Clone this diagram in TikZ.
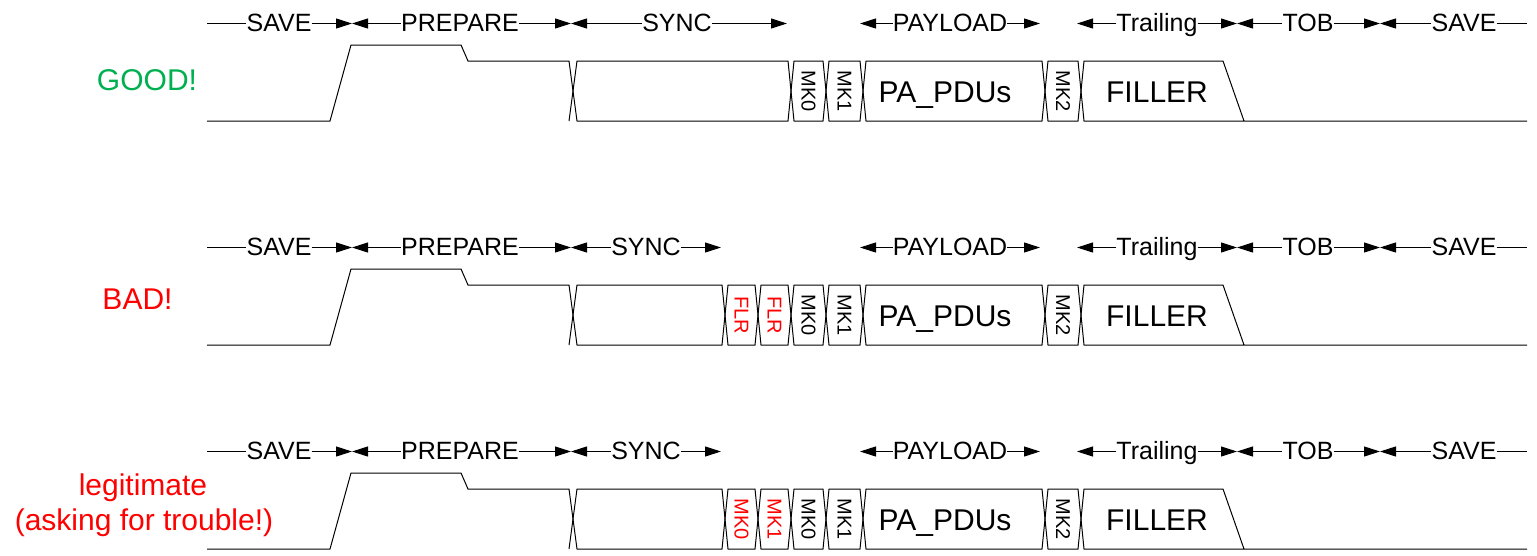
\documentclass[tikz,border=0pt]{standalone}
\usepackage{fontspec}
\setmainfont{Liberation Sans}
\usetikzlibrary{arrows.meta}

\definecolor{okgreen}{HTML}{00B050}
\definecolor{badred}{HTML}{FF0000}

\tikzset{
  wave/.style={line width=1pt, draw=black, line join=miter},
  dimtip/.style={line width=1pt, -{Triangle[length=16pt,width=10pt]}},
  plainline/.style={line width=1pt},
  lbl/.style={font=\fontsize{25}{30}\selectfont, inner sep=0pt,
    text height=17.9pt, text depth=0pt},
  big/.style={font=\fontsize{30}{34}\selectfont, inner sep=0pt, anchor=base},
  mk/.style={font=\fontsize{20}{24}\selectfont, inner sep=0pt, rotate=-90},
  side/.style={font=\fontsize{30}{35}\selectfont, inner sep=0pt, anchor=base, align=center},
}

% phase labels with dimension arrows; #1 prefix, #2 vertical offset,
% #3 end of SYNC phase, #4 centre of SYNC text
\newcommand\phaserow[4]{%
  \coordinate (#1l0) at (207,{#2+23.5});
  \coordinate (#1b1) at (352,{#2+23.5});
  \coordinate (#1b2) at (571,{#2+23.5});
  \coordinate (#1b3) at (#3,{#2+23.5});
  \coordinate (#1b4) at (860,{#2+23.5});
  \coordinate (#1b5) at (1040,{#2+23.5});
  \coordinate (#1b6) at (1077,{#2+23.5});
  \coordinate (#1b7) at (1237,{#2+23.5});
  \coordinate (#1b8) at (1380,{#2+23.5});
  \coordinate (#1r0) at (1527,{#2+23.5});
  \node[lbl] (#1save)  at (279,{#2+22.5})  {SAVE};
  \node[lbl] (#1prep)  at (460,{#2+22.5})  {PREPARE};
  \node[lbl] (#1sync)  at (#4,{#2+22.5})   {SYNC};
  \node[lbl] (#1pay)   at (950,{#2+22.5})  {PAYLOAD};
  \node[lbl] (#1trail) at (1157,{#2+22.5}) {Trailing};
  \node[lbl] (#1tob)   at (1308,{#2+22.5}) {TOB};
  \node[lbl] (#1save2) at (1464,{#2+22.5}) {SAVE};
  \draw[plainline] (#1l0) -- (#1save.west |- #1l0);
  \draw[dimtip] (#1save.east |- #1l0) -- (#1b1);
  \draw[dimtip] (#1prep.west |- #1l0) -- (#1b1);
  \draw[dimtip] (#1prep.east |- #1l0) -- (#1b2);
  \draw[dimtip] (#1sync.west |- #1l0) -- (#1b2);
  \draw[dimtip] (#1sync.east |- #1l0) -- (#1b3);
  \draw[dimtip] (#1pay.west |- #1l0) -- (#1b4);
  \draw[dimtip] (#1pay.east |- #1l0) -- (#1b5);
  \draw[dimtip] (#1trail.west |- #1l0) -- (#1b6);
  \draw[dimtip] (#1trail.east |- #1l0) -- (#1b7);
  \draw[dimtip] (#1tob.west |- #1l0) -- (#1b7);
  \draw[dimtip] (#1tob.east |- #1l0) -- (#1b8);
  \draw[dimtip] (#1save2.west |- #1l0) -- (#1b8);
  \draw[plainline] (#1save2.east |- #1l0) -- (#1r0);
}

% one bus slot between transitions at #1 and #2, vertical offset #3,
% half-width of the left transition #4
\newcommand\busslotd[4]{%
  \draw[wave] ({#1+#4},{#3+61}) -- ({#2-3},{#3+61}) -- (#2,{#3+91})
    -- ({#2-3},{#3+121}) -- ({#1+#4},{#3+121}) -- (#1,{#3+91}) -- cycle;
}
\newcommand\busslot[3]{\busslotd{#1}{#2}{#3}{3}}

% the signal line: idle, prepare pulse, SYNC, payload markers, filler
\newcommand\signal[2]{%
  \draw[wave] (207,{#1+121}) -- (330,{#1+121}) -- (351,{#1+45}) -- (461,{#1+45})
    -- (468,{#1+61}) -- (569,{#1+61}) -- (573,{#1+91}) -- (569,{#1+121});
  \busslotd{573}{#2}{#1}{4}
  \busslot{791}{826}{#1}
  \busslot{826}{863}{#1}
  \busslot{863}{1045}{#1}
  \busslot{1045}{1081}{#1}
  \draw[wave] (1527,{#1+121}) -- (1244,{#1+121}) -- (1223,{#1+61}) -- (1084,{#1+61})
    -- (1081,{#1+91}) -- (1084,{#1+121}) -- (1244,{#1+121});
}

\begin{document}
\begin{tikzpicture}[x=1pt,y=-1pt]
  \useasboundingbox (0,0) rectangle (1537,555);

  % ---------- first case ----------
  \phaserow{a}{0}{787}{677}
  \signal{0}{791}
  \node[mk] (amk0) at (808.5,91) {MK0};
  \node[mk] (amk1) at (844.5,91) {MK1};
  \node[big] (apdu) at (945,102) {PA\_PDUs};
  \node[mk] (amk2) at (1063,91) {MK2};
  \node[big] (afill) at (1157,102) {FILLER};
  \node[side, text=okgreen] (good) at (147,90) {GOOD!};

  % ---------- second case ----------
  \phaserow{b}{224}{721}{646}
  \signal{224}{725}
  \busslot{725}{758}{224}
  \busslot{758}{791}{224}
  \node[mk, text=badred] (bflr0) at (741.5,315) {FLR};
  \node[mk, text=badred] (bflr1) at (774.5,315) {FLR};
  \node[mk] (bmk0) at (808.5,315) {MK0};
  \node[mk] (bmk1) at (844.5,315) {MK1};
  \node[big] (bpdu) at (945,326) {PA\_PDUs};
  \node[mk] (bmk2) at (1063,315) {MK2};
  \node[big] (bfill) at (1157,326) {FILLER};
  \node[side, text=badred] (bad) at (137.5,309) {BAD!};

  % ---------- third case ----------
  \phaserow{c}{428}{721}{646}
  \signal{428}{725}
  \busslot{725}{758}{428}
  \busslot{758}{791}{428}
  \node[mk, text=badred] (cmk0r) at (741.5,519) {MK0};
  \node[mk, text=badred] (cmk1r) at (774.5,519) {MK1};
  \node[mk] (cmk0) at (808.5,519) {MK0};
  \node[mk] (cmk1) at (844.5,519) {MK1};
  \node[big] (cpdu) at (945,530) {PA\_PDUs};
  \node[mk] (cmk2) at (1063,519) {MK2};
  \node[big] (cfill) at (1157,530) {FILLER};
  \node[side, text=badred] (legit) at (143,495) {legitimate};
  \node[side, text=badred] (trouble) at (144,530) {(asking for trouble!)};
\end{tikzpicture}
\end{document}
